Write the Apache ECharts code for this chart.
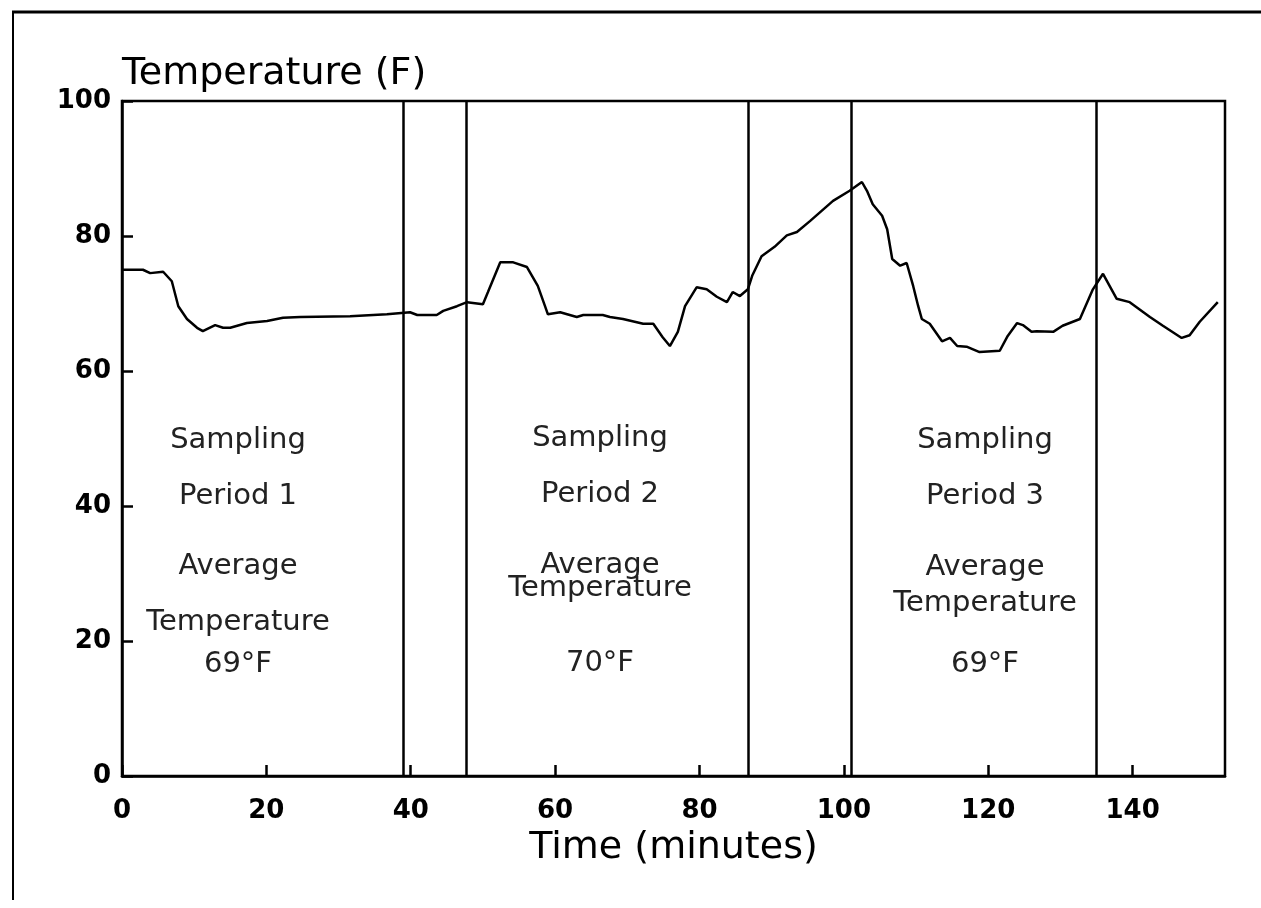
<!DOCTYPE html>
<html>
<head>
<meta charset="utf-8">
<title>Temperature</title>
<script src="https://cdn.jsdelivr.net/npm/echarts@6/dist/echarts.min.js"></script>
<style>
  html, body { margin: 0; padding: 0; background: #fff; }
  #chart { width: 1261px; height: 908px; }
</style>
</head>
<body>
<div id="chart"></div>
<script>
  // time (minutes) and temperature (F)
  const timeMin = [0, 2.9, 3.9, 5.7, 6.9, 7.8, 9.0, 10.4, 11.2, 12.9, 14.0, 15.0, 17.3, 20.1, 22.3, 24.7, 31.6, 36.7, 39.9, 40.9,
    43.6, 44.5, 46.4, 47.8, 50.0, 50.7, 52.4, 54.2, 56.1, 57.6, 58.6, 59.0, 60.7, 63.0, 63.9, 66.6, 67.6, 69.4, 72.2, 73.6,
    74.9, 75.9, 77.0, 78.0, 79.6, 81.0, 82.4, 83.8, 84.6, 85.6, 86.7, 87.3, 88.6, 90.4, 92.1, 93.5, 95.3, 98.5, 100.8, 102.5,
    103.2, 104.0, 105.3, 106.0, 106.7, 107.8, 108.7, 109.6, 110.3, 110.8, 111.9, 113.6, 114.7, 115.7, 117.0, 118.8, 121.6, 122.7, 124.0, 124.8,
    126.0, 126.7, 129.0, 130.3, 132.7, 134.5, 135.9, 137.8, 139.6, 142.4, 144.2, 146.8, 147.9, 149.3, 151.8];
  const tempF = [75, 75, 74.5, 74.7, 73.3, 69.6, 67.7, 66.4, 65.9, 66.8, 66.4, 66.4, 67.1, 67.4, 67.9, 68, 68.1, 68.4, 68.7, 68.3,
    68.3, 68.9, 69.6, 70.2, 69.9, 71.7, 76.1, 76.1, 75.4, 72.6, 69.6, 68.4, 68.7, 68, 68.3, 68.3, 68, 67.7, 67, 67,
    65, 63.7, 65.8, 69.6, 72.4, 72.1, 71, 70.2, 71.7, 71.1, 72.1, 74.1, 77, 78.4, 80.1, 80.6, 82.2, 85.2, 86.7, 88,
    86.7, 84.7, 83, 81, 76.6, 75.6, 76, 72.6, 69.6, 67.7, 67, 64.4, 64.9, 63.7, 63.6, 62.8, 63, 65.2, 67.1, 66.8,
    65.8, 65.9, 65.8, 66.7, 67.7, 72.1, 74.4, 70.7, 70.2, 68, 66.7, 64.9, 65.3, 67.3, 70.2];
  // period boundaries (minutes)
  const boundaries = [38.9, 47.7, 86.7, 101.0, 134.9];
  // annotation text per period
  const periodText = [
    ['Sampling', 'Period 1', 'Average', 'Temperature', '69°F'],
    ['Sampling', 'Period 2', 'Average', 'Temperature', '70°F'],
    ['Sampling', 'Period 3', 'Average', 'Temperature', '69°F']
  ];

  const chart = echarts.init(document.getElementById('chart'));

  const textFont = 'DejaVu Sans, sans-serif';

  // layout of annotation lines (pixels)
  const periodX = [238, 600, 985];
  const periodY = [
    [440, 496, 566, 622, 664],
    [438, 494, 565, 588, 663],
    [440, 496, 567, 603, 664]
  ];
  const graphics = [
    { type: 'line', shape: { x1: 12, y1: 12, x2: 1261, y2: 12 }, style: { stroke: '#000', lineWidth: 3 } },
    { type: 'line', shape: { x1: 13, y1: 11, x2: 13, y2: 900 }, style: { stroke: '#000', lineWidth: 2 } }
  ];
  periodText.forEach((lines, p) => {
    lines.forEach((t, i) => {
      graphics.push({
        type: 'text',
        x: periodX[p],
        y: periodY[p][i],
        style: {
          text: t,
          fill: '#222',
          font: '29px ' + textFont,
          textAlign: 'center',
          textVerticalAlign: 'middle'
        }
      });
    });
  });

  chart.setOption({
    backgroundColor: '#ffffff',
    animation: false,
    grid: {
      left: 122,
      top: 101,
      right: 36,
      bottom: 132,
      show: true,
      borderColor: '#000',
      borderWidth: 2.5
    },
    xAxis: {
      type: 'value',
      min: 0,
      max: 152.8,
      interval: 20,
      name: 'Time (minutes)',
      nameLocation: 'middle',
      nameGap: 50,
      nameTextStyle: { fontFamily: textFont, fontSize: 38, color: '#000' },
      splitLine: { show: false },
      axisLine: { lineStyle: { color: '#000', width: 2.5 } },
      axisTick: { inside: true, length: 11, lineStyle: { color: '#000', width: 2.5 } },
      axisLabel: {
        margin: 22,
        showMaxLabel: false,
        fontFamily: textFont,
        fontWeight: 'bold',
        fontSize: 26,
        color: '#000',
        formatter: v => (v % 20 === 0 ? String(v) : '')
      }
    },
    yAxis: {
      type: 'value',
      min: 0,
      max: 100,
      interval: 20,
      name: 'Temperature (F)',
      nameLocation: 'end',
      nameGap: 27,
      nameTextStyle: { fontFamily: textFont, fontSize: 38, color: '#000', align: 'left', verticalAlign: 'middle' },
      splitLine: { show: false },
      axisLine: { show: true, lineStyle: { color: '#000', width: 2.5 } },
      axisTick: { show: true, inside: true, length: 11, lineStyle: { color: '#000', width: 2.5 } },
      axisLabel: {
        margin: 11,
        fontFamily: textFont,
        fontWeight: 'bold',
        fontSize: 26,
        color: '#000'
      }
    },
    graphic: graphics,
    series: [
      {
        type: 'line',
        data: timeMin.map((t, i) => [t, tempF[i]]),
        symbol: 'none',
        lineStyle: { color: '#000', width: 2.5 },
        markLine: {
          silent: true,
          symbol: 'none',
          label: { show: false },
          lineStyle: { color: '#000', width: 2.5, type: 'solid' },
          data: boundaries.map(b => ({ xAxis: b }))
        }
      }
    ]
  });
</script>
</body>
</html>
